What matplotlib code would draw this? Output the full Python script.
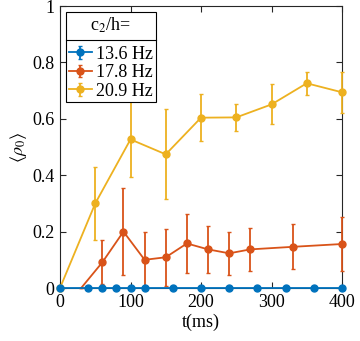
import matplotlib
matplotlib.use("Agg")
import matplotlib.pyplot as plt
from matplotlib.lines import Line2D
from matplotlib.legend_handler import HandlerErrorbar
from matplotlib.container import ErrorbarContainer

plt.rcParams["font.family"] = ["Liberation Serif", "DejaVu Serif"]
plt.rcParams["mathtext.fontset"] = "stix"

# --- data ---
t_blue = [0, 40, 60, 80, 100, 120, 160, 200, 240, 280, 320, 360, 400]
v_blue = [0, 0, 0, 0, 0, 0, 0, 0, 0, 0, 0, 0, 0]
e_blue = [0, 0, 0, 0, 0, 0, 0, 0, 0, 0, 0, 0, 0]

t_orange = [30, 60, 90, 120, 150, 180, 210, 240, 270, 330, 400]
v_orange = [0, 0.091, 0.200, 0.100, 0.109, 0.158, 0.137, 0.123, 0.137, 0.146, 0.156]
e_orange = [0, 0.078, 0.155, 0.100, 0.102, 0.104, 0.084, 0.077, 0.075, 0.080, 0.095]

t_yellow = [0, 50, 100, 150, 200, 250, 300, 350, 400]
v_yellow = [0, 0.300, 0.527, 0.474, 0.604, 0.605, 0.651, 0.726, 0.694]
e_yellow = [0, 0.130, 0.135, 0.160, 0.083, 0.048, 0.071, 0.041, 0.073]

labels = ["13.6 Hz", "17.8 Hz", "20.9 Hz"]
colors = ["#0072BD", "#D95319", "#EDB120"]

fig = plt.figure(figsize=(3.6, 3.41), dpi=100)
ax = fig.add_axes([0.1667, 0.1554, 0.7833, 0.827])

kw = dict(marker="o", markersize=5, linewidth=1.3, elinewidth=1.3, capsize=1.5)
h_y = ax.errorbar(t_yellow, v_yellow, yerr=e_yellow, color=colors[2], zorder=2, **kw)
h_o = ax.errorbar(t_orange, v_orange, yerr=e_orange, color=colors[1], zorder=3,
                  markevery=list(range(1, len(t_orange))), **kw)
h_b = ax.errorbar(t_blue, v_blue, yerr=e_blue, color=colors[0], zorder=4, **kw)
for h in (h_y, h_o, h_b):
    for art in h.get_children():
        art.set_clip_on(False)

ax.set_xlim(0, 400)
ax.set_ylim(0, 1)
ax.set_xticks([0, 100, 200, 300, 400])
ax.set_yticks([0, 0.2, 0.4, 0.6, 0.8, 1])
ax.set_yticklabels(["0", "0.2", "0.4", "0.6", "0.8", "1"])
ax.tick_params(direction="in", top=True, right=True, labelsize=13, length=4,
               color="#262626", pad=4)
for s in ax.spines.values():
    s.set_color("#262626")
    s.set_linewidth(0.8)
    s.set_zorder(1)
ax.set_xlabel("t(ms)", fontsize=13, labelpad=2)
ax.set_ylabel(r"$\langle\rho_0\rangle$", fontsize=13, labelpad=2)

leg = ax.legend([h_b, h_o, h_y], labels, title="c$_2$/h=", loc="upper left",
                bbox_to_anchor=(0.0213, 0.977), fontsize=13, title_fontsize=13,
                frameon=True, fancybox=False, edgecolor="black", framealpha=1,
                handlelength=1.3, handletextpad=0.2, borderpad=0.15,
                labelspacing=0.08, borderaxespad=0,
                handler_map={ErrorbarContainer: HandlerErrorbar(yerr_size=0.35)})
leg.get_frame().set_linewidth(0.8)
leg.set_zorder(10)
leg._legend_box.sep = 8

# separator line between the legend title and the entries
fig.canvas.draw()
r = fig.canvas.get_renderer()
fb = leg.get_frame().get_window_extent(r)
tb = leg.get_title().get_window_extent(r)
hb = leg._legend_handle_box.get_window_extent(r)
ysep = 0.5 * (tb.y0 + hb.y1)
inv = fig.transFigure.inverted()
x0, y0 = inv.transform((fb.x0, ysep))
x1, _ = inv.transform((fb.x1, ysep))
fig.add_artist(Line2D([x0, x1], [y0, y0], color="black", linewidth=0.8,
                      transform=fig.transFigure, zorder=11))

fig.savefig("out.png", dpi=100)
